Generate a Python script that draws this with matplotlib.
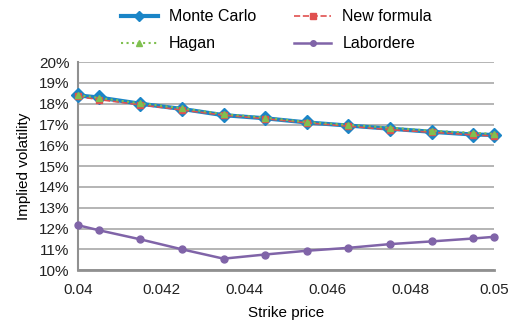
import matplotlib
matplotlib.use('Agg')
from matplotlib import pyplot as plt
from matplotlib.ticker import FuncFormatter

plt.rcParams['font.family'] = ['Liberation Sans', 'DejaVu Sans']

# Strike prices and implied vols (%)
strike = [0.04, 0.0405, 0.0415, 0.0425, 0.0435, 0.0445, 0.0455, 0.0465, 0.0475, 0.0485, 0.0495, 0.05]
monte_carlo = [18.4, 18.3, 18.0, 17.75, 17.45, 17.3, 17.1, 16.95, 16.8, 16.65, 16.52, 16.5]
new_formula = [18.35, 18.2, 17.95, 17.7, 17.45, 17.28, 17.08, 16.92, 16.75, 16.63, 16.5, 16.45]
hagan = [18.42, 18.28, 18.02, 17.78, 17.5, 17.33, 17.12, 16.98, 16.85, 16.7, 16.6, 16.55]
labordere = [12.16, 11.92, 11.48, 11.0, 10.55, 10.75, 10.93, 11.07, 11.25, 11.38, 11.52, 11.6]

fig = plt.figure(figsize=(5.12, 3.27), dpi=100)
ax = fig.add_axes([0.152, 0.174, 0.813, 0.636])

l_mc, = ax.plot(strike, monte_carlo, color='#1a85c7', marker='D', markersize=7, linewidth=3,
                label='Monte Carlo', zorder=3, clip_on=False)
l_nf, = ax.plot(strike, new_formula, color='#e0504f', marker='s', markersize=5, linewidth=1.2,
                linestyle='--', label='New formula', zorder=4, clip_on=False)
l_hg, = ax.plot(strike, hagan, color='#80c050', marker='^', markersize=5, linewidth=1.5,
                linestyle=':', label='Hagan', zorder=5, clip_on=False)
l_lb, = ax.plot(strike, labordere, color='#8064a8', marker='o', markersize=5, linewidth=1.8,
                label='Labordere', zorder=3, clip_on=False)

ax.set_xlim(0.04, 0.05)
ax.set_ylim(10, 20)
ax.set_xticks([0.04, 0.042, 0.044, 0.046, 0.048, 0.05])
ax.set_xticklabels(['0.04', '0.042', '0.044', '0.046', '0.048', '0.05'])
ax.set_yticks(range(10, 21))
ax.yaxis.set_major_formatter(FuncFormatter(lambda v, p: f'{int(v)}%'))
ax.tick_params(length=0, labelsize=11, colors='#222222')
ax.tick_params(axis='x', pad=9)
ax.tick_params(axis='y', pad=6)
ax.grid(True, axis='y', color='#a8a8a8', linewidth=1.2)
ax.set_axisbelow(True)
for s in ['top', 'right']:
    ax.spines[s].set_visible(False)
ax.spines['left'].set_color('#909090')
ax.spines['left'].set_linewidth(1.5)
ax.spines['bottom'].set_color('#909090')
ax.spines['bottom'].set_linewidth(2)

ax.set_xlabel('Strike price', fontsize=11, labelpad=7)
ax.set_ylabel('Implied volatility', fontsize=11, labelpad=6)

leg = fig.legend([l_mc, l_hg, l_nf, l_lb], ['Monte Carlo', 'Hagan', 'New formula', 'Labordere'],
                 loc='upper center', bbox_to_anchor=(0.54, 1.015), ncol=2, frameon=False,
                 fontsize=11.5, handlelength=2.3, handletextpad=0.7, columnspacing=2.4,
                 labelspacing=0.75, markerscale=0.8)

fig.savefig('out.png', dpi=100)
